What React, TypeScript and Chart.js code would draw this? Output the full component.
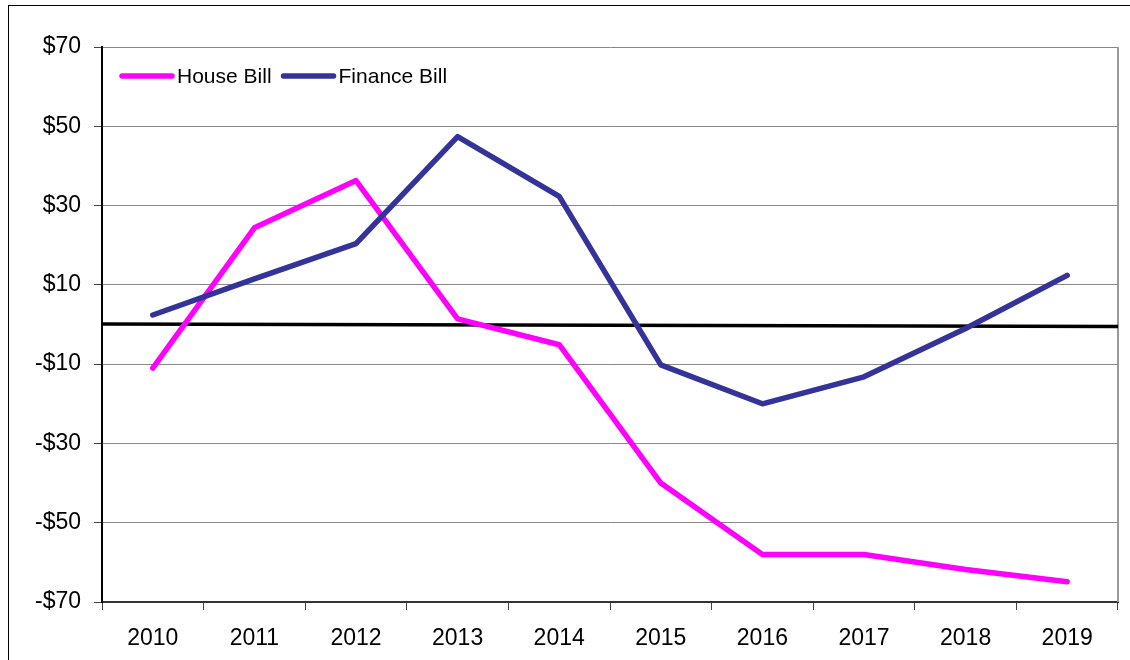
import React, { useEffect, useRef } from "react";
import { Chart, registerables } from "chart.js";

Chart.register(...registerables);

const years = ["2010", "2011", "2012", "2013", "2014", "2015", "2016", "2017", "2018", "2019"];
const houseBill = [-11, 24.4, 36.3, 1.4, -5.1, -40, -58, -58, -61.8, -64.9];
const financeBill = [2.4, 11.5, 20.4, 47.4, 32.3, -10.2, -20, -13.2, -1, 12.4];
const zeroLineX = [0, 1];
const zeroLineY = [0.1, -0.5];
const yMin = -70;
const yMax = 70;
const yStep = 20;

const FONT = "'Liberation Sans', Arial, sans-serif";

const legendPlugin = {
  id: "insideLegend",
  afterDatasetsDraw(chart: any) {
    const ctx = chart.ctx;
    const items = chart.data.datasets.filter((d: any) => d.showInLegend);
    let x = 122;
    const y = 76;
    ctx.save();
    ctx.font = `21px ${FONT}`;
    ctx.textBaseline = "middle";
    ctx.textAlign = "left";
    items.forEach((d: any) => {
      ctx.strokeStyle = d.borderColor;
      ctx.lineWidth = 5.5;
      ctx.lineCap = "round";
      ctx.beginPath();
      ctx.moveTo(x, y);
      ctx.lineTo(x + 50, y);
      ctx.stroke();
      ctx.fillStyle = "#000";
      ctx.fillText(d.label, x + 55, y + 1);
      x += 55 + ctx.measureText(d.label).width + 12;
    });
    ctx.restore();
  },
};

const borderPlugin = {
  id: "rightBorder",
  beforeDatasetsDraw(chart: any) {
    const { ctx, chartArea } = chart;
    ctx.save();
    ctx.strokeStyle = "#999";
    ctx.lineWidth = 2;
    ctx.beginPath();
    ctx.moveTo(chartArea.right, chartArea.top);
    ctx.lineTo(chartArea.right, chartArea.bottom);
    ctx.stroke();
    ctx.restore();
  },
};

export default function App() {
  const ref = useRef<HTMLCanvasElement>(null);
  useEffect(() => {
    if (!ref.current) return;
    const chart = new Chart(ref.current, {
      type: "line",
      data: {
        labels: years,
        datasets: [
          {
            label: "Zero",
            data: zeroLineX.map((x, i) => ({ x, y: zeroLineY[i] })),
            xAxisID: "xz",
            borderColor: "#000",
            borderWidth: 3.5,
            pointRadius: 0,
            tension: 0,
            order: 3,
          } as any,
          {
            label: "House Bill",
            data: houseBill,
            borderColor: "#FF00FF",
            backgroundColor: "#FF00FF",
            borderWidth: 5.5,
            pointRadius: 0,
            borderCapStyle: "round",
            borderJoinStyle: "round",
            tension: 0,
            showInLegend: true,
            order: 2,
          } as any,
          {
            label: "Finance Bill",
            data: financeBill,
            borderColor: "#333399",
            backgroundColor: "#333399",
            borderWidth: 5.5,
            pointRadius: 0,
            borderCapStyle: "round",
            borderJoinStyle: "round",
            tension: 0,
            showInLegend: true,
            order: 1,
          } as any,
        ],
      },
      options: {
        animation: false,
        responsive: false,
        devicePixelRatio: 1,
        layout: { padding: { top: 47, right: 12, left: 0, bottom: 0 } },
        plugins: {
          legend: { display: false },
          tooltip: { enabled: false },
          title: { display: false },
        },
        scales: {
          x: {
            type: "category",
            offset: true,
            grid: {
              offset: true,
              drawOnChartArea: false,
              drawTicks: true,
              tickLength: 8,
              tickColor: "#444",
            },
            border: { color: "#333", width: 2 },
            ticks: {
              color: "#000",
              font: { family: FONT, size: 23 },
              padding: 15,
              maxRotation: 0,
            },
            afterFit: (s: any) => {
              s.height = 58;
            },
          },
          xz: {
            type: "linear",
            display: false,
            min: 0,
            max: 1,
          },
          y: {
            min: yMin,
            max: yMax,
            ticks: {
              stepSize: yStep,
              color: "#000",
              font: { family: FONT, size: 23 },
              padding: 13,
              callback: (v: any) => (v < 0 ? `-$${Math.abs(v)}` : `$${v}`),
            },
            grid: {
              color: "#888",
              lineWidth: 1,
              tickLength: 8,
              tickColor: "#444",
            },
            border: { color: "#000", width: 2 },
            afterFit: (s: any) => {
              s.width = 102;
            },
          },
        },
      },
      plugins: [borderPlugin, legendPlugin],
    });
    return () => chart.destroy();
  }, []);

  return (
    <div
      style={{
        position: "fixed",
        left: 0,
        top: 0,
        width: 1130,
        height: 660,
        overflow: "hidden",
        background: "#fff",
      }}
    >
      <div
        style={{
          position: "absolute",
          left: 8,
          top: 5,
          width: 1140,
          height: 680,
          border: "1px solid #000",
        }}
      />
      <canvas
        ref={ref}
        width={1130}
        height={660}
        style={{ position: "absolute", left: 0, top: 0, width: 1130, height: 660 }}
      />
    </div>
  );
}
